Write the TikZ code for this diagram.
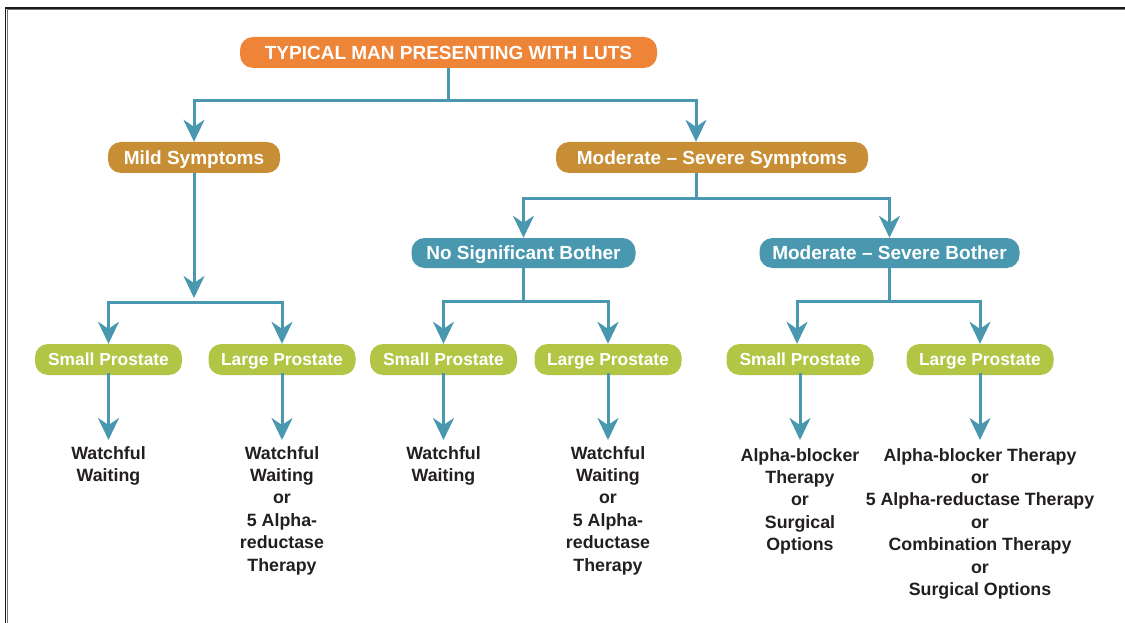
\documentclass[tikz,border=0pt]{standalone}
\usepackage{fontspec}
\setmainfont{Liberation Sans}
\usetikzlibrary{arrows.meta,calc}
\definecolor{cOrange}{HTML}{EE8438}
\definecolor{cOchre}{HTML}{C78E35}
\definecolor{cTeal}{HTML}{4A98B0}
\definecolor{cGreen}{HTML}{B2C545}
\definecolor{cText}{HTML}{231F20}
\tikzset{
  box/.style={rounded corners=13pt, inner sep=0pt, text=white, font=\bfseries\fontsize{19}{22}\selectfont, minimum height=31pt, text height=13.6pt, text depth=0pt},
  topbox/.style={box, fill=cOrange, minimum width=417pt},
  symbox/.style={box, fill=cOchre},
  botbox/.style={box, fill=cTeal, minimum height=30pt},
  prbox/.style={box, fill=cGreen, minimum width=147pt, font=\bfseries\fontsize{17.4}{20}\selectfont, text height=12.5pt, text depth=0pt},
  result/.style={anchor=north, inner sep=0pt, align=center, text=cText, font=\bfseries\fontsize{17.8}{22.4}\selectfont},
  conn/.style={draw=cTeal, line width=3pt},
  arr/.style={conn, -{Stealth[length=22pt,width=21pt,inset=7pt]}},
}
\begin{document}
\begin{tikzpicture}[x=1pt,y=-1pt]
\useasboundingbox (0,0) rectangle (1125,623);
% frame
\draw[black!55, line width=1pt] (7,623) -- (7,9.5) -- (1125,9.5);
\draw[black!90, line width=1.3pt] (5.5,623) -- (5.5,8) -- (1125,8);

% nodes
\node[topbox] (title) at (448.5,52.5) {TYPICAL MAN PRESENTING WITH LUTS};
\node[symbox, minimum width=172pt] (mild) at (194,157.5) {Mild Symptoms};
\node[symbox, minimum width=312pt] (mod) at (712,157.5) {Moderate -- Severe Symptoms};
\node[botbox, minimum width=224pt] (nosig) at (523.5,253) {No Significant Bother};
\node[botbox, minimum width=260pt] (modb) at (889.5,253) {Moderate -- Severe Bother};

\node[prbox] (sp1) at (108.5,359.5) {Small Prostate};
\node[prbox] (lp1) at (282,359.5) {Large Prostate};
\node[prbox] (sp2) at (443.5,359.5) {Small Prostate};
\node[prbox] (lp2) at (608,359.5) {Large Prostate};
\node[prbox] (sp3) at (800,359.5) {Small Prostate};
\node[prbox] (lp3) at (980,359.5) {Large Prostate};

\node[result] (r1) at (108.5,446) {Watchful\\Waiting};
\node[result] (r2) at (282,446) {Watchful\\Waiting\\or\\5 Alpha-\\reductase\\Therapy};
\node[result] (r3) at (443.5,446) {Watchful\\Waiting};
\node[result] (r4) at (608,446) {Watchful\\Waiting\\or\\5 Alpha-\\reductase\\Therapy};
\node[result] (r5) at (800,448) {Alpha-blocker\\Therapy\\or\\Surgical\\Options};
\node[result] (r6) at (980,448) {Alpha-blocker Therapy\\or\\5 Alpha-reductase Therapy\\or\\Combination Therapy\\or\\Surgical Options};

% junctions
\coordinate (j1) at (448.5,101);
\coordinate (j5) at (696,198);
\coordinate (m1) at (194,298);
\coordinate (j2) at (195,302);
\coordinate (j3) at (523.5,301);
\coordinate (j4) at (889.5,301);
\coordinate (tips) at (0,440);

% connectors
\draw[conn] (title.south) -- (j1);
\draw[arr] (j1) -| (mild.north);
\draw[arr] (j1) -| ([xshift=-16pt]mod.north);

\draw[arr] (mild.south) -- (m1);
\draw[arr] (j2) -| (sp1.north);
\draw[arr] (j2) -| (lp1.north);

\draw[conn] ([xshift=-16pt]mod.south) -- (j5);
\draw[arr] (j5) -| (nosig.north);
\draw[arr] (j5) -| (modb.north);

\draw[conn] (nosig.south) -- (j3);
\draw[arr] (j3) -| (sp2.north);
\draw[arr] (j3) -| (lp2.north);

\draw[conn] (modb.south) -- (j4);
\draw[arr] (j4) -| ([xshift=-3pt]sp3.north);
\draw[arr] (j4) -| (lp3.north);

\draw[arr] ([yshift=2pt]sp1.south) -- (sp1.south |- tips);
\draw[arr] ([yshift=2pt]lp1.south) -- (lp1.south |- tips);
\draw[arr] ([yshift=2pt]sp2.south) -- (sp2.south |- tips);
\draw[arr] ([yshift=2pt]lp2.south) -- (lp2.south |- tips);
\draw[arr] ([yshift=2pt]sp3.south) -- (sp3.south |- tips);
\draw[arr] ([yshift=2pt]lp3.south) -- (lp3.south |- tips);
\end{tikzpicture}
\end{document}
